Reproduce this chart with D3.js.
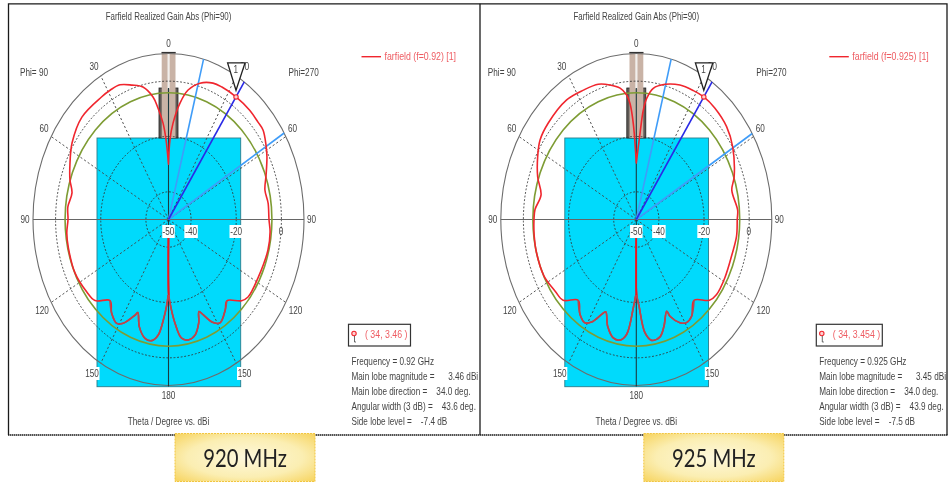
<!DOCTYPE html>
<html><head><meta charset="utf-8">
<script src="https://cdnjs.cloudflare.com/ajax/libs/d3/7.8.5/d3.min.js"></script>
<style>
html,body{margin:0;padding:0;background:#fff;overflow:hidden}
svg{display:block;filter:blur(0.4px)}
text{font-family:"Liberation Sans",sans-serif;font-size:10px;fill:#444;white-space:pre}
</style></head><body>
<svg id="c" width="952" height="483"></svg>
<script>
// ---------- DATA (theta in degrees, gain in dBi) ----------
const ringTicks = [-40, -20, 0];
const ringLabels = [-50, -40, -20, 0];
const spokeAngles = [30, 60, 120, 150];
const constantRingDb = -4.2;

const thetaRight920 = [0,1.3,3.3,6.9,10.5,15.8,21.8,26.3,34,42.3,48.4,52.3,58,62.6,69.6,76,82.3,90,95.7,104,118,128.5,132.2,138.7,142.4,148.6,152,155.9,157.9,160.3,164.3,168.6,172.3,175.6,178.2,179.7,180];
const gainRight920  = [-30,-21,-15.1,-7.6,-2.4,1.2,3.1,3.4,3.46,3.4,3,2.9,0.9,-0.9,-3.9,-6,-5.5,-5.5,-4.8,-4.6,-5.1,-5,-6.3,-10.9,-8.8,-6.2,-7.8,-12.2,-14.1,-10.3,-6.6,-5.6,-6.7,-12.4,-18.5,-22.7,-45];
const thetaLeft920  = [0,2.2,4,6.6,8.8,13.3,18.4,23.8,28.8,34,46,57,65.7,71.9,77.3,84.2,90,96.2,103.1,115,125.8,132,138.5,143.4,148.6,151.9,156.8,158,161.6,166.4,170.4,173.8,176.4,178.6,179.7];
const gainLeft920   = [-30,-21,-15,-9.4,-5.2,-0.8,1.2,3.2,3.4,3.3,3.3,0.9,-2.1,-4.1,-6.2,-5.2,-5.5,-4.7,-4.5,-4.3,-5.3,-6.2,-10.9,-7.8,-6,-7.5,-12.4,-13.7,-9.1,-5.8,-5.6,-8,-13.6,-19.1,-22.7];

const thetaRight925 = [0,3,4.5,6,9,14.6,21.7,28.5,34,40.9,50,58.4,70.4,75.9,85.6,90,97.7,107.4,118.2,127.3,132,138.8,145,149.2,152.6,156.9,157.9,162.4,166.1,171.2,174.6,177.8,179.7,180];
const gainRight925  = [-29.6,-18.9,-10.3,-6,-2,0.5,2.3,3,3.45,3.2,2.2,0.1,-4,-6.4,-5,-5.3,-5.2,-5.8,-5.5,-5.3,-6.4,-11.2,-7.3,-6.6,-8,-12,-14.2,-9.5,-6.3,-5.8,-8.8,-18.7,-23,-45];
const thetaLeft925  = [0,2.2,3.8,5.4,8.6,13.5,19,26.6,35.5,48.3,56,62.6,70.6,78.1,85.4,90,97.6,105,116.6,125.8,132,138.6,144,148.6,151.9,155.9,157.9,161.8,166.6,170.6,174.1,177.6,179.7];
const gainLeft925   = [-29.6,-15.3,-8,-4.8,-2,0,1.7,2.3,3.1,2.3,1.4,-0.8,-3.7,-6.9,-5,-4.7,-4.4,-4.2,-4.3,-5.7,-6.4,-11.1,-7.6,-6.3,-8,-12.4,-14,-9.4,-6,-5.8,-8.2,-18,-23];

const legends920 = ["farfield (f=0.92) [1]", "( 34, 3.46 )"];
const legends925 = ["farfield (f=0.925) [1]", "( 34, 3.454 )"];
const infoLines920 = ["Frequency = 0.92 GHz","Main lobe magnitude =      3.46 dBi","Main lobe direction =    34.0 deg.","Angular width (3 dB) =    43.6 deg.","Side lobe level =    -7.4 dB"];
const infoLines925 = ["Frequency = 0.925 GHz","Main lobe magnitude =      3.45 dBi","Main lobe direction =    34.0 deg.","Angular width (3 dB) =    43.9 deg.","Side lobe level =    -7.5 dB"];
const mainLobe920 = {theta:34, gain:3.46, low:15, high:58.6};
const mainLobe925 = {theta:34, gain:3.454, low:14.9, high:58.8};
const captions = ["920 MHz","925 MHz"];

// ---------- LAYOUT ----------
const svg = d3.select("#c");
const CY = 219.5, RX = 135.5, RY = 166;
const rx = d3.scaleLinear().domain([-50,10]).range([0,RX]);
const ry = d3.scaleLinear().domain([-50,10]).range([0,RY]);
const rad = d3.scaleLinear().domain([0,180]).range([0,Math.PI]);

const defs = svg.append("defs");
const grad = defs.append("radialGradient").attr("id","gold").attr("r","75%");
grad.append("stop").attr("offset","0%").attr("stop-color","#fdf8dc");
grad.append("stop").attr("offset","55%").attr("stop-color","#fbeeb2");
grad.append("stop").attr("offset","100%").attr("stop-color","#f6cf50");

function drawPanel(cx, o){
  const g = svg.append("g");
  const px = (t,d,side=1)=> cx + side*rx(d)*Math.sin(rad(t));
  const py = (t,d)=> CY - ry(d)*Math.cos(rad(t));
  // narrow the sans face to the tight bitmap font of the reference
  const T = (x,y,s,a="middle",fill="#444",squeeze=0.82)=>
    g.append("text").attr("transform",`translate(${x},${y}) scale(${squeeze},1)`).attr("text-anchor",a).attr("dominant-baseline","central").style("fill",fill).text(s);

  // structure behind the plot
  g.append("rect").attr("x",cx-71.5).attr("y",138).attr("width",143.7).attr("height",248.7).attr("fill","#00dafc").attr("stroke","#2a7d8c").attr("stroke-width",0.9);
  g.append("rect").attr("x",cx-9.5).attr("y",88).attr("width",19).attr("height",50).attr("fill","#5f5a56").attr("stroke","#222").attr("stroke-width",0.8);
  g.append("rect").attr("x",cx-6.8).attr("y",52.5).attr("width",13.8).attr("height",85.5).attr("fill","#c9b3a6");
  g.append("rect").attr("x",cx-1).attr("y",52.5).attr("width",2.2).attr("height",36).attr("fill","#f2efec");
  g.append("line").attr("x1",cx-7).attr("x2",cx+7.2).attr("y1",52.6).attr("y2",52.6).attr("stroke","#333").attr("stroke-width",1.4);

  // polar grid
  ringTicks.forEach(d=>{
    g.append("ellipse").attr("cx",cx).attr("cy",CY).attr("rx",rx(d)).attr("ry",ry(d))
      .attr("fill","none").attr("stroke","#333").attr("stroke-width",0.9).attr("stroke-dasharray","1.8 1.8");
  });
  spokeAngles.forEach(t=>[1,-1].forEach(s=>{
    g.append("line").attr("x1",cx).attr("y1",CY).attr("x2",px(t,10,s)).attr("y2",py(t,10))
      .attr("stroke","#444").attr("stroke-width",0.9).attr("stroke-dasharray","2.2 2.2");
  }));
  g.append("ellipse").attr("cx",cx).attr("cy",CY).attr("rx",RX).attr("ry",RY).attr("fill","none").attr("stroke","#6c6c6c").attr("stroke-width",1.1);
  g.append("line").attr("x1",cx-RX).attr("x2",cx+RX).attr("y1",CY).attr("y2",CY).attr("stroke","#666").attr("stroke-width",1.1);
  g.append("line").attr("x1",cx).attr("x2",cx).attr("y1",88).attr("y2",CY+RY+1).attr("stroke","#1c3a40").attr("stroke-width",1.1);

  // constant ring
  g.append("ellipse").attr("cx",cx).attr("cy",CY).attr("rx",rx(constantRingDb)).attr("ry",ry(constantRingDb))
    .attr("fill","none").attr("stroke","#7e9c34").attr("stroke-width",1.6);

  // beam lines
  [o.lobe.low,o.lobe.high].forEach(t=>{
    g.append("line").attr("x1",cx).attr("y1",CY).attr("x2",px(t,10)).attr("y2",py(t,10)).attr("stroke","#3f9cf8").attr("stroke-width",1.6);
  });
  g.append("line").attr("x1",cx).attr("y1",CY).attr("x2",px(o.lobe.theta,10)).attr("y2",py(o.lobe.theta,10)).attr("stroke","#2a2ae6").attr("stroke-width",1.6);

  // pattern curve: Phi=270 on the right, Phi=90 on the left
  const pts = o.thetaR.map((t,i)=>[t,o.gainR[i],1]);
  const ptsL = o.thetaL.map((t,i)=>[t,o.gainL[i],-1]).reverse();
  const line = d3.line().x(d=>px(d[0],d[1],d[2])).y(d=>py(d[0],d[1])).curve(d3.curveCatmullRom.alpha(0.5));
  g.append("path").attr("d",line(ptsL.concat(pts))).attr("fill","none").attr("stroke","#f0262e").attr("stroke-width",1.6).attr("stroke-linejoin","round");
  // lower part on the cyan block reads darker
  const under = pts.filter(d=>d[0]>=138).reverse();
  const underL = ptsL.filter(d=>d[0]>=138);
  g.append("path").attr("d",line(under)).attr("fill","none").attr("stroke","#b8484e").attr("stroke-width",1.6);
  g.append("path").attr("d",line(underL)).attr("fill","none").attr("stroke","#b8484e").attr("stroke-width",1.6);
  g.append("line").attr("x1",cx).attr("x2",cx).attr("y1",py(180,-45)).attr("y2",py(180,-22.7)).attr("stroke","#f0141e").attr("stroke-width",1.6);

  // marker and triangle
  const mx = px(o.lobe.theta,o.lobe.gain), my = py(o.lobe.theta,o.lobe.gain);
  T(cx+76,66.5,"30","middle","#444",0.85);
  g.append("circle").attr("cx",mx).attr("cy",my).attr("r",2.2).attr("fill","#ffd0d0").attr("stroke","#f0262e").attr("stroke-width",1.1);
  g.append("path").attr("d",`M${mx-8.4},${my-34}H${mx+9}L${mx},${my-6.6}Z`).attr("fill","#fff").attr("stroke","#222").attr("stroke-width",1.3);
  T(mx-0.3, my-27, "1");

  // texts
  T(cx,17,"Farfield Realized Gain Abs (Phi=90)","middle","#444",0.79);
  T(cx,44,"0");
  T(cx-74.5,66.5,"30");
  T(cx-148.5,72.5,"Phi= 90","start");
  T(cx+120,72.5,"Phi=270","start");
  T(cx-124.5,129,"60"); T(cx+124,129,"60");
  T(cx-143.5,220,"90"); T(cx+143,220,"90");
  T(cx-126.5,311,"120"); T(cx+127,311,"120");
  T(cx,396,"180");
  T(cx,422,"Theta / Degree vs. dBi");

  const labelWithBg=(x,y,s,w)=>{
    g.append("rect").attr("x",x-w/2).attr("y",y-6.5).attr("width",w).attr("height",13).attr("fill","#fff");
    T(x,y,s);
  };
  labelWithBg(cx-76.5,373.5,"150",15); labelWithBg(cx+76,373.5,"150",15);
  ringLabels.forEach(d=>{
    const x=cx+rx(d);
    if(d===0) T(x-0.5,231.5,"0"); else labelWithBg(x,231.5,String(d),d===-50?12.5:13.5);
  });

  // legend
  g.append("line").attr("x1",cx+193).attr("x2",cx+212.5).attr("y1",56.7).attr("y2",56.7).attr("stroke","#f0262e").attr("stroke-width",1.4);
  T(cx+216,56.7,o.legend[0],"start","#ee5c62",0.88);

  // readout
  g.append("rect").attr("x",cx+180).attr("y",324.3).attr("width",o.boxW).attr("height",21.7).attr("fill","#fff").attr("stroke","#333").attr("stroke-width",1.2);
  g.append("circle").attr("cx",cx+185.5).attr("cy",333.5).attr("r",2.2).attr("fill","#ffd0d0").attr("stroke","#f0262e").attr("stroke-width",1.1);
  g.append("path").attr("d",`M${cx+186},336V342H${cx+187.5}`).attr("fill","none").attr("stroke","#444").attr("stroke-width",0.8);
  T(cx+196.5,334,o.legend[1],"start","#ee5c62",0.88);

  const ys=[361.5,376.5,391.5,406.5,422];
  o.info.forEach((s,i)=> T(cx+183,ys[i],s,"start"));
}

drawPanel(168.5,{thetaR:thetaRight920,gainR:gainRight920,thetaL:thetaLeft920,gainL:gainLeft920,lobe:mainLobe920,legend:legends920,info:infoLines920,boxW:62});
drawPanel(636.3,{thetaR:thetaRight925,gainR:gainRight925,thetaL:thetaLeft925,gainL:gainLeft925,lobe:mainLobe925,legend:legends925,info:infoLines925,boxW:66});

// frames
const frame = svg.append("g").attr("stroke","#1a1a1a").attr("fill","none");
frame.append("path").attr("d","M8.5,435V3.8H947V435").attr("stroke-width",1.3);
frame.append("line").attr("x1",480).attr("x2",480).attr("y1",3.8).attr("y2",435).attr("stroke-width",1.3);
frame.append("line").attr("x1",8).attr("x2",947.5).attr("y1",435).attr("y2",435).attr("stroke-width",1.5).attr("stroke-dasharray","1.5 0.5");

// captions
svg.selectAll("g.cap").data(captions).join("g").attr("class","cap").each(function(d,i){
  const x=[175,643.8][i], c=d3.select(this);
  c.append("rect").attr("x",x).attr("y",433.5).attr("width",140).attr("height",48).attr("fill","url(#gold)").attr("stroke","#f2c640").attr("stroke-width",1).attr("stroke-dasharray","2 1");
  c.append("text").attr("transform",`translate(${x+70},458) scale(0.81,1)`).attr("text-anchor","middle").attr("dominant-baseline","central")
   .style("font-family","Lato, sans-serif").style("font-size","25px").style("fill","#222").text(d);
});
</script></body></html>
